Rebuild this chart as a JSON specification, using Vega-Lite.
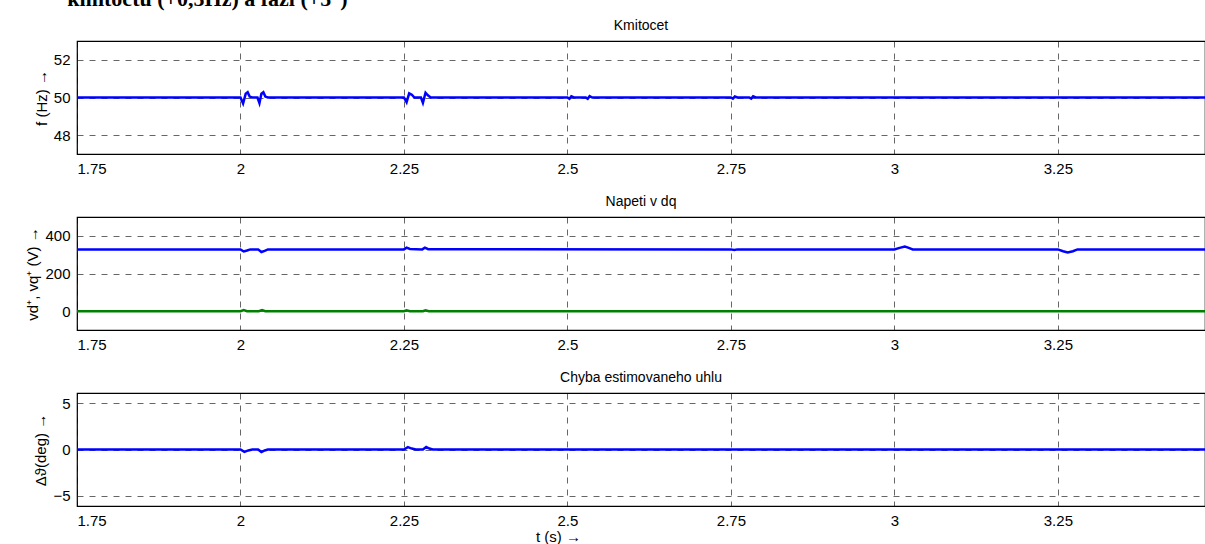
{
  "$schema": "https://vega.github.io/schema/vega-lite/v6.json",
  "background": "white",
  "padding": {"left": 25, "top": -12, "right": 0, "bottom": 0},
  "title": {"text": "kmitočtu (+0,5Hz) a fázi (+5°)", "anchor": "start", "font": "Liberation Serif", "fontSize": 22, "fontWeight": "bold", "color": "#000", "offset": 7, "dx": 42},
  "bounds": "flush",
  "spacing": 63,
  "data": {"values": [
    {"panel": "f", "series": "f", "t": 1.75, "value": 50},
    {"panel": "f", "series": "f", "t": 2.0, "value": 50},
    {"panel": "f", "series": "f", "t": 2.004, "value": 49.68},
    {"panel": "f", "series": "f", "t": 2.008, "value": 50.2},
    {"panel": "f", "series": "f", "t": 2.011, "value": 50.28},
    {"panel": "f", "series": "f", "t": 2.014, "value": 50.05},
    {"panel": "f", "series": "f", "t": 2.018, "value": 50},
    {"panel": "f", "series": "f", "t": 2.026, "value": 50},
    {"panel": "f", "series": "f", "t": 2.029, "value": 49.7},
    {"panel": "f", "series": "f", "t": 2.032, "value": 50.2},
    {"panel": "f", "series": "f", "t": 2.035, "value": 50.28},
    {"panel": "f", "series": "f", "t": 2.038, "value": 50.05},
    {"panel": "f", "series": "f", "t": 2.042, "value": 50},
    {"panel": "f", "series": "f", "t": 2.25, "value": 50},
    {"panel": "f", "series": "f", "t": 2.254, "value": 49.75},
    {"panel": "f", "series": "f", "t": 2.258, "value": 50.22},
    {"panel": "f", "series": "f", "t": 2.262, "value": 50.15},
    {"panel": "f", "series": "f", "t": 2.266, "value": 50},
    {"panel": "f", "series": "f", "t": 2.276, "value": 50},
    {"panel": "f", "series": "f", "t": 2.279, "value": 49.72},
    {"panel": "f", "series": "f", "t": 2.283, "value": 50.25},
    {"panel": "f", "series": "f", "t": 2.287, "value": 50.1},
    {"panel": "f", "series": "f", "t": 2.291, "value": 50},
    {"panel": "f", "series": "f", "t": 2.5, "value": 50},
    {"panel": "f", "series": "f", "t": 2.503, "value": 49.93},
    {"panel": "f", "series": "f", "t": 2.506, "value": 50.06},
    {"panel": "f", "series": "f", "t": 2.51, "value": 50},
    {"panel": "f", "series": "f", "t": 2.528, "value": 50},
    {"panel": "f", "series": "f", "t": 2.531, "value": 49.93},
    {"panel": "f", "series": "f", "t": 2.534, "value": 50.07},
    {"panel": "f", "series": "f", "t": 2.538, "value": 50},
    {"panel": "f", "series": "f", "t": 2.75, "value": 50},
    {"panel": "f", "series": "f", "t": 2.753, "value": 49.94},
    {"panel": "f", "series": "f", "t": 2.756, "value": 50.05},
    {"panel": "f", "series": "f", "t": 2.76, "value": 50},
    {"panel": "f", "series": "f", "t": 2.778, "value": 50},
    {"panel": "f", "series": "f", "t": 2.781, "value": 49.94},
    {"panel": "f", "series": "f", "t": 2.784, "value": 50.06},
    {"panel": "f", "series": "f", "t": 2.788, "value": 50},
    {"panel": "f", "series": "f", "t": 3.5, "value": 50},

    {"panel": "v", "series": "vd", "t": 1.75, "value": 328},
    {"panel": "v", "series": "vd", "t": 2.0, "value": 328},
    {"panel": "v", "series": "vd", "t": 2.005, "value": 317},
    {"panel": "v", "series": "vd", "t": 2.01, "value": 322},
    {"panel": "v", "series": "vd", "t": 2.015, "value": 328},
    {"panel": "v", "series": "vd", "t": 2.027, "value": 328},
    {"panel": "v", "series": "vd", "t": 2.032, "value": 314},
    {"panel": "v", "series": "vd", "t": 2.037, "value": 320},
    {"panel": "v", "series": "vd", "t": 2.042, "value": 328},
    {"panel": "v", "series": "vd", "t": 2.25, "value": 328},
    {"panel": "v", "series": "vd", "t": 2.254, "value": 337},
    {"panel": "v", "series": "vd", "t": 2.259, "value": 330},
    {"panel": "v", "series": "vd", "t": 2.278, "value": 328},
    {"panel": "v", "series": "vd", "t": 2.282, "value": 337},
    {"panel": "v", "series": "vd", "t": 2.287, "value": 329},
    {"panel": "v", "series": "vd", "t": 2.75, "value": 328},
    {"panel": "v", "series": "vd", "t": 2.755, "value": 325},
    {"panel": "v", "series": "vd", "t": 2.76, "value": 328},
    {"panel": "v", "series": "vd", "t": 3.0, "value": 328},
    {"panel": "v", "series": "vd", "t": 3.008, "value": 336},
    {"panel": "v", "series": "vd", "t": 3.016, "value": 343},
    {"panel": "v", "series": "vd", "t": 3.022, "value": 336},
    {"panel": "v", "series": "vd", "t": 3.028, "value": 328},
    {"panel": "v", "series": "vd", "t": 3.25, "value": 328},
    {"panel": "v", "series": "vd", "t": 3.258, "value": 318},
    {"panel": "v", "series": "vd", "t": 3.265, "value": 312},
    {"panel": "v", "series": "vd", "t": 3.273, "value": 318},
    {"panel": "v", "series": "vd", "t": 3.28, "value": 328},
    {"panel": "v", "series": "vd", "t": 3.5, "value": 328},

    {"panel": "v", "series": "vq", "t": 1.75, "value": 0},
    {"panel": "v", "series": "vq", "t": 2.0, "value": 0},
    {"panel": "v", "series": "vq", "t": 2.005, "value": 6},
    {"panel": "v", "series": "vq", "t": 2.01, "value": 0},
    {"panel": "v", "series": "vq", "t": 2.028, "value": 0},
    {"panel": "v", "series": "vq", "t": 2.033, "value": 6},
    {"panel": "v", "series": "vq", "t": 2.038, "value": 0},
    {"panel": "v", "series": "vq", "t": 2.25, "value": 0},
    {"panel": "v", "series": "vq", "t": 2.254, "value": 5},
    {"panel": "v", "series": "vq", "t": 2.259, "value": 0},
    {"panel": "v", "series": "vq", "t": 2.279, "value": 0},
    {"panel": "v", "series": "vq", "t": 2.283, "value": 5},
    {"panel": "v", "series": "vq", "t": 2.288, "value": 0},
    {"panel": "v", "series": "vq", "t": 3.5, "value": 0},

    {"panel": "a", "series": "a", "t": 1.75, "value": 0},
    {"panel": "a", "series": "a", "t": 2.0, "value": 0},
    {"panel": "a", "series": "a", "t": 2.006, "value": -0.25},
    {"panel": "a", "series": "a", "t": 2.012, "value": -0.1},
    {"panel": "a", "series": "a", "t": 2.018, "value": 0},
    {"panel": "a", "series": "a", "t": 2.027, "value": 0},
    {"panel": "a", "series": "a", "t": 2.032, "value": -0.28},
    {"panel": "a", "series": "a", "t": 2.037, "value": -0.1},
    {"panel": "a", "series": "a", "t": 2.042, "value": 0},
    {"panel": "a", "series": "a", "t": 2.25, "value": 0},
    {"panel": "a", "series": "a", "t": 2.256, "value": 0.25},
    {"panel": "a", "series": "a", "t": 2.262, "value": 0.1},
    {"panel": "a", "series": "a", "t": 2.268, "value": 0},
    {"panel": "a", "series": "a", "t": 2.279, "value": 0},
    {"panel": "a", "series": "a", "t": 2.284, "value": 0.27},
    {"panel": "a", "series": "a", "t": 2.289, "value": 0.1},
    {"panel": "a", "series": "a", "t": 2.294, "value": 0},
    {"panel": "a", "series": "a", "t": 3.5, "value": 0}
  ]},
  "config": {
    "font": "Liberation Sans",
    "view": {"stroke": "#000", "strokeWidth": 1.2},
    "axis": {
      "domain": false, "ticks": false, "grid": true,
      "gridColor": "#000", "gridDash": [6, 6], "gridOpacity": 0.6, "gridWidth": 1,
      "labelFont": "Liberation Sans", "labelFontSize": 15, "labelColor": "#000",
      "titleFont": "Liberation Sans", "titleFontSize": 15, "titleFontWeight": "normal", "titleColor": "#000",
      "labelPadding": 7
    },
    "title": {"font": "Liberation Sans", "fontSize": 14, "fontWeight": "normal", "color": "#000", "offset": 8}
  },
  "vconcat": [
    {
      "width": 1128, "height": 113,
      "title": "Kmitocet",
      "transform": [{"filter": "datum.panel === 'f'"}],
      "mark": {"type": "line", "strokeWidth": 2.5, "clip": true, "color": "#0000ff"},
      "encoding": {
        "x": {"field": "t", "type": "quantitative", "scale": {"domain": [1.75, 3.475], "nice": false, "zero": false},
              "axis": {"values": [1.75, 2, 2.25, 2.5, 2.75, 3, 3.25], "labelExpr": "'' + datum.value", "title": null}},
        "y": {"field": "value", "type": "quantitative", "scale": {"domain": [47, 53], "nice": false, "zero": false},
              "axis": {"values": [48, 50, 52], "title": "f (Hz) →"}}
      }
    },
    {
      "width": 1128, "height": 113,
      "title": "Napeti v dq",
      "transform": [{"filter": "datum.panel === 'v'"}],
      "mark": {"type": "line", "strokeWidth": 2.5, "clip": true},
      "encoding": {
        "x": {"field": "t", "type": "quantitative", "scale": {"domain": [1.75, 3.475], "nice": false, "zero": false},
              "axis": {"values": [1.75, 2, 2.25, 2.5, 2.75, 3, 3.25], "labelExpr": "'' + datum.value", "title": null}},
        "y": {"field": "value", "type": "quantitative", "scale": {"domain": [-100, 500], "nice": false, "zero": false},
              "axis": {"values": [0, 200, 400], "title": "vd⁺, vq⁺ (V) →"}},
        "color": {"field": "series", "type": "nominal", "scale": {"domain": ["vd", "vq"], "range": ["#0000ff", "#008000"]}, "legend": null}
      }
    },
    {
      "width": 1128, "height": 113,
      "title": "Chyba estimovaneho uhlu",
      "transform": [{"filter": "datum.panel === 'a'"}],
      "mark": {"type": "line", "strokeWidth": 2.5, "clip": true, "color": "#0000ff"},
      "encoding": {
        "x": {"field": "t", "type": "quantitative", "scale": {"domain": [1.75, 3.475], "nice": false, "zero": false},
              "axis": {"values": [1.75, 2, 2.25, 2.5, 2.75, 3, 3.25], "labelExpr": "'' + datum.value", "title": "t (s)  →", "titlePadding": 1, "titleX": 481}},
        "y": {"field": "value", "type": "quantitative", "scale": {"domain": [-6.12, 6.12], "nice": false, "zero": false},
              "axis": {"values": [-5, 0, 5], "title": "Δϑ(deg) →"}}
      }
    }
  ]
}
